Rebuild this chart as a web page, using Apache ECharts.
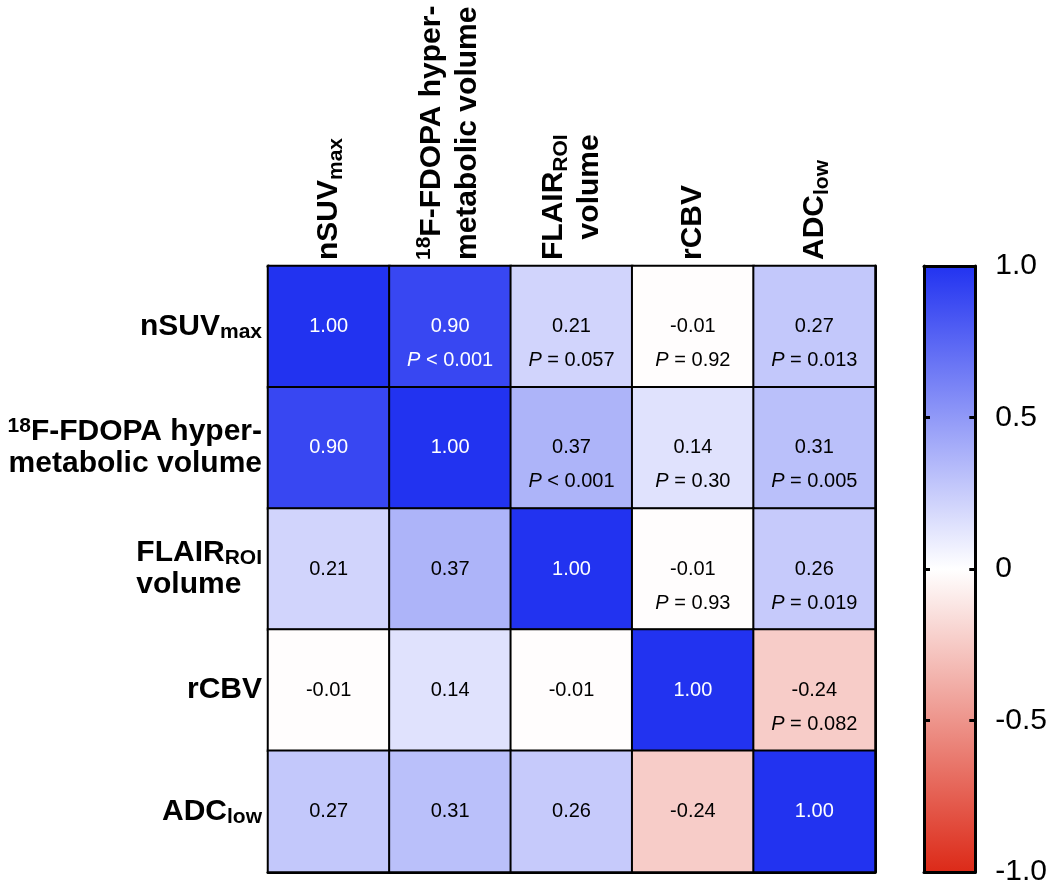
<!DOCTYPE html>
<html>
<head>
<meta charset="utf-8">
<script src="https://cdn.jsdelivr.net/npm/echarts@6/dist/echarts.min.js"></script>
<style>html,body{margin:0;padding:0;background:#fff}#c{width:1050px;height:888px}</style>
</head>
<body>
<div id="c"></div>
<script>
// ---- data ----
const variables = ['nSUVmax', '18F-FDOPA hypermetabolic volume', 'FLAIRROI volume', 'rCBV', 'ADClow'];
const corr = [
  [1.00, 0.90, 0.21, -0.01, 0.27],
  [0.90, 1.00, 0.37, 0.14, 0.31],
  [0.21, 0.37, 1.00, -0.01, 0.26],
  [-0.01, 0.14, -0.01, 1.00, -0.24],
  [0.27, 0.31, 0.26, -0.24, 1.00]
];
const pText = [
  [null, '< 0.001', '= 0.057', '= 0.92', '= 0.013'],
  [null, null, '< 0.001', '= 0.30', '= 0.005'],
  [null, null, null, '= 0.93', '= 0.019'],
  [null, null, null, null, '= 0.082'],
  [null, null, null, null, null]
];
const colorbarRange = [-1, 1];

const xLabelRich = {
  'nSUVmax': '{b|nSUV}{sub|max}',
  '18F-FDOPA hypermetabolic volume': '{sup|18}{b|F-FDOPA hyper-}\n{b|metabolic volume}',
  'FLAIRROI volume': '{b|FLAIR}{sub|ROI}\n{volR|volume}',
  'rCBV': '{b|rCBV}',
  'ADClow': '{b|ADC}{sub|low}'
};
const yLabelRich = {
  'nSUVmax': '{b|nSUV}{sub|max}',
  '18F-FDOPA hypermetabolic volume': '{sup|18}{b|F-FDOPA hyper-}\n{b|metabolic volume}',
  'FLAIRROI volume': '{b|FLAIR}{sub|ROI}\n{volL|volume}',
  'rCBV': '{b|rCBV}',
  'ADClow': '{b|ADC}{sub|low}'
};

const FONT = 'Liberation Sans, Arial, sans-serif';
const colors = ['#dc2a18', '#ffffff', '#2233f0'];

const heatData = [];
for (let r = 0; r < variables.length; r++) {
  for (let c = 0; c < variables.length; c++) {
    const item = { value: [c, r, corr[r][c]] };
    if (pText[r][c]) item.label = { offset: [0, 17] };
    heatData.push(item);
  }
}

function richSet(lineH) {
  return {
    b: { fontSize: 30, fontWeight: 'bold', fontFamily: FONT, color: '#000', lineHeight: lineH },
    sub: { fontSize: 21, fontWeight: 'bold', fontFamily: FONT, color: '#000', verticalAlign: 'bottom', lineHeight: 21 },
    sup: { fontSize: 21, fontWeight: 'bold', fontFamily: FONT, color: '#000', verticalAlign: 'top', lineHeight: 21 },
    volR: { fontSize: 30, fontWeight: 'bold', fontFamily: FONT, color: '#000', lineHeight: lineH, align: 'right' },
    volL: { fontSize: 30, fontWeight: 'bold', fontFamily: FONT, color: '#000', lineHeight: lineH, align: 'left' }
  };
}

const gradient = new echarts.graphic.LinearGradient(0, 0, 0, 1, [
  { offset: 0, color: colors[2] }, { offset: 0.5, color: colors[1] }, { offset: 1, color: colors[0] }
]);

const chart = echarts.init(document.getElementById('c'));
chart.setOption({
  backgroundColor: '#fff',
  animation: false,
  grid: [
    { left: 268, right: 175, top: 266, bottom: 16 },
    { left: 924, width: 52, top: 266, bottom: 16 }
  ],
  xAxis: [
    { type: 'category', gridIndex: 0, position: 'top', data: variables,
      axisLine: { show: true, lineStyle: { color: '#000', width: 3 } },
      axisTick: { show: false }, splitLine: { show: false },
      axisLabel: { rotate: -90, margin: 6, interval: 0,
        formatter: v => xLabelRich[v], rich: richSet(36) } },
    { type: 'category', gridIndex: 0, position: 'bottom', data: variables,
      axisLine: { show: true, lineStyle: { color: '#000', width: 3 } },
      axisTick: { show: false }, axisLabel: { show: false } },
    { type: 'category', gridIndex: 1, data: ['bar'], z: 10,
      axisLine: { show: true, onZero: false, lineStyle: { color: '#000', width: 3 } },
      axisTick: { show: false }, axisLabel: { show: false } },
    { type: 'category', gridIndex: 1, position: 'top', data: ['bar'], z: 10,
      axisLine: { show: true, onZero: false, lineStyle: { color: '#000', width: 3 } },
      axisTick: { show: false }, axisLabel: { show: false } }
  ],
  yAxis: [
    { type: 'category', gridIndex: 0, inverse: true, data: variables,
      axisLine: { show: true, lineStyle: { color: '#000', width: 3 } },
      axisTick: { show: false }, splitLine: { show: false },
      axisLabel: { margin: 6, interval: 0, align: 'right',
        formatter: v => yLabelRich[v], rich: richSet(32) } },
    { type: 'category', gridIndex: 0, inverse: true, position: 'right', data: variables,
      axisLine: { show: true, lineStyle: { color: '#000', width: 3 } },
      axisTick: { show: false }, axisLabel: { show: false } },
    { type: 'value', gridIndex: 1, position: 'right', min: colorbarRange[0], max: colorbarRange[1], interval: 0.5, z: 10,
      axisLine: { show: true, lineStyle: { color: '#000', width: 3 } },
      axisTick: { show: true, inside: true, length: 6, lineStyle: { color: '#000', width: 3 } },
      splitLine: { show: false },
      axisLabel: { margin: 20, fontSize: 30, fontFamily: FONT, color: '#000',
        formatter: v => (v === 0 ? '0' : v.toFixed(1)) } },
    { type: 'value', gridIndex: 1, position: 'left', min: colorbarRange[0], max: colorbarRange[1], interval: 0.5, z: 10,
      axisLine: { show: true, lineStyle: { color: '#000', width: 3 } },
      axisTick: { show: true, inside: true, length: 6, lineStyle: { color: '#000', width: 3 } },
      splitLine: { show: false }, axisLabel: { show: false } },
    { type: 'value', gridIndex: 1, show: false, min: 0, max: colorbarRange[1] - colorbarRange[0] }
  ],
  visualMap: {
    show: false, type: 'continuous', min: colorbarRange[0], max: colorbarRange[1], dimension: 2, seriesIndex: 0,
    inRange: { color: colors }
  },
  series: [{
    type: 'heatmap', xAxisIndex: 0, yAxisIndex: 0, data: heatData,
    itemStyle: { borderColor: '#000', borderWidth: 2 },
    emphasis: { disabled: true },
    label: {
      show: true,
      formatter: p => {
        const [c, r, v] = p.value;
        const s = Math.abs(v) >= 0.8 ? 'w' : 'k';
        let t = '{' + s + '|' + v.toFixed(2) + '}';
        if (pText[r][c]) t += '\n{' + s + 'i|P}{' + s + '| ' + pText[r][c] + '}';
        return t;
      },
      rich: {
        w: { fontSize: 20, fontFamily: FONT, color: '#fff', lineHeight: 34 },
        wi: { fontSize: 20, fontFamily: FONT, color: '#fff', fontStyle: 'italic', lineHeight: 34 },
        k: { fontSize: 20, fontFamily: FONT, color: '#000', lineHeight: 34 },
        ki: { fontSize: 20, fontFamily: FONT, color: '#000', fontStyle: 'italic', lineHeight: 34 }
      }
    }
  }, {
    // colour bar: one bar spanning the full range (-1 .. 1)
    type: 'bar', xAxisIndex: 2, yAxisIndex: 4, barWidth: '100%', z: 1,
    data: [colorbarRange[1] - colorbarRange[0]],
    itemStyle: { color: gradient },
    silent: true
  }]
});
</script>
</body>
</html>
